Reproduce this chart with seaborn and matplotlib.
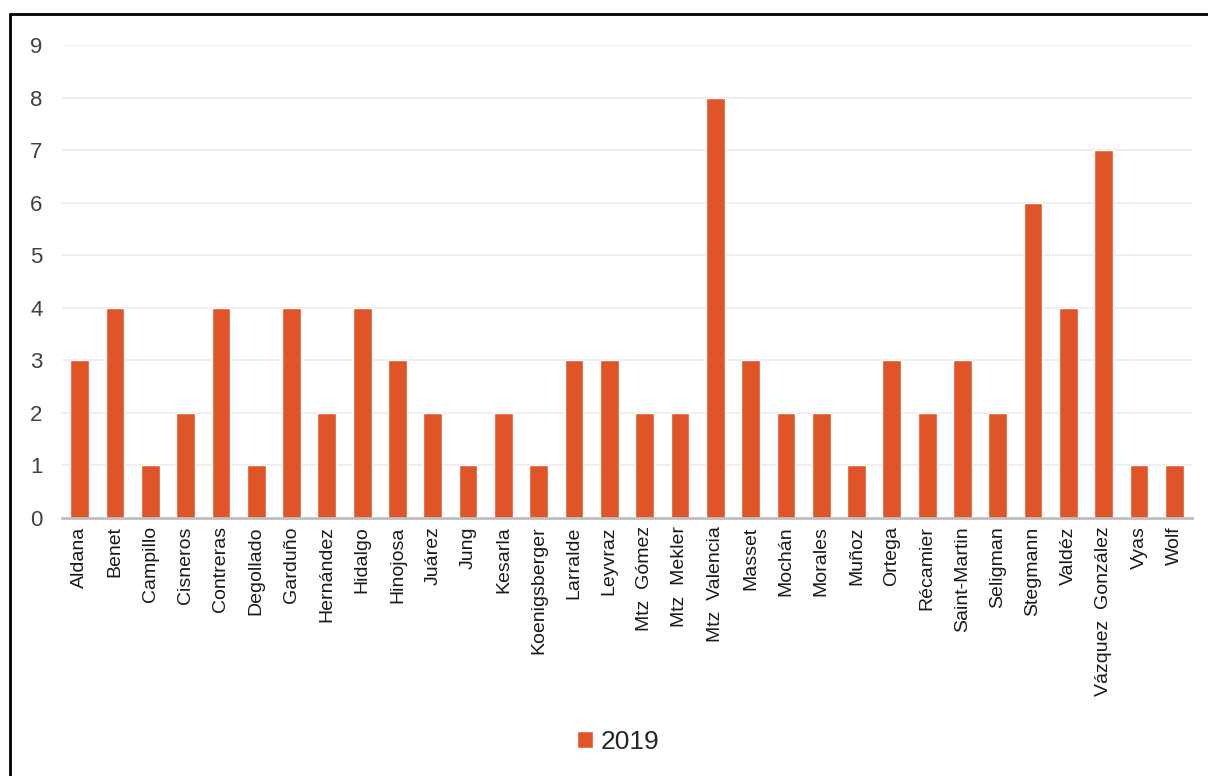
import matplotlib
matplotlib.use("Agg")
import matplotlib.pyplot as plt
import seaborn as sns
import pandas as pd
from matplotlib.lines import Line2D
from matplotlib.patches import Patch

# data
names = ["Aldana", "Benet", "Campillo", "Cisneros", "Contreras", "Degollado",
         "Garduño", "Hernández", "Hidalgo", "Hinojosa", "Juárez", "Jung",
         "Kesarla", "Koenigsberger", "Larralde", "Leyvraz", "Mtz  Gómez",
         "Mtz  Mekler", "Mtz  Valencia", "Masset", "Mochán", "Morales", "Muñoz",
         "Ortega", "Récamier", "Saint-Martin", "Seligman", "Stegmann", "Valdéz",
         "Vázquez  González", "Vyas", "Wolf"]
counts = [3, 4, 1, 2, 4, 1, 4, 2, 4, 3, 2, 1, 2, 1, 3, 3, 2, 2, 8, 3, 2, 2, 1,
          3, 2, 3, 2, 6, 4, 7, 1, 1]
series = "2019"
bar_color = "#E05527"

df = pd.DataFrame({"name": names, "value": counts})

sns.set_style("white")
plt.rcParams["font.family"] = ["Liberation Sans", "DejaVu Sans"]

fig = plt.figure(figsize=(12.08, 7.76), dpi=100)
ax = fig.add_axes([62 / 1208, 1 - 518 / 776, (1192 - 62) / 1208, (518 - 45) / 776])

sns.barplot(data=df, x="name", y="value", color=bar_color, width=0.53,
            saturation=1, ax=ax, zorder=3)

ax.set_ylim(0, 9)
ax.set_xlim(-0.5, len(names) - 0.5)
ax.set_yticks(range(0, 10))
ax.yaxis.grid(True, color="#ebebeb", linewidth=1.2, zorder=0)
ax.set_xlabel("")
ax.set_ylabel("")
for s in ["top", "right", "left"]:
    ax.spines[s].set_visible(False)
ax.spines["bottom"].set_color("#bfbfbf")
ax.spines["bottom"].set_linewidth(2)
ax.spines["bottom"].set_zorder(4)
ax.tick_params(axis="y", length=0, labelsize=16, colors="#404040", pad=14)
ax.tick_params(axis="x", length=0, labelsize=14, colors="#1a1a1a", pad=6)
plt.setp(ax.get_xticklabels(), rotation=90, va="top", ha="center")

handles = [Patch(facecolor=bar_color, label=series)]
fig.legend(handles=handles, loc="center", bbox_to_anchor=(0.512, 0.044),
           frameon=False, fontsize=19, handlelength=0.6, handleheight=0.6,
           handletextpad=0.3)

# outer chart border
fig.add_artist(Line2D([10 / 1208, 10 / 1208], [0, 1 - 14 / 776],
                      transform=fig.transFigure, color="black", linewidth=2))
fig.add_artist(Line2D([10 / 1208, 1], [1 - 14 / 776, 1 - 14 / 776],
                      transform=fig.transFigure, color="black", linewidth=2))

fig.savefig("out.png", dpi=100)
